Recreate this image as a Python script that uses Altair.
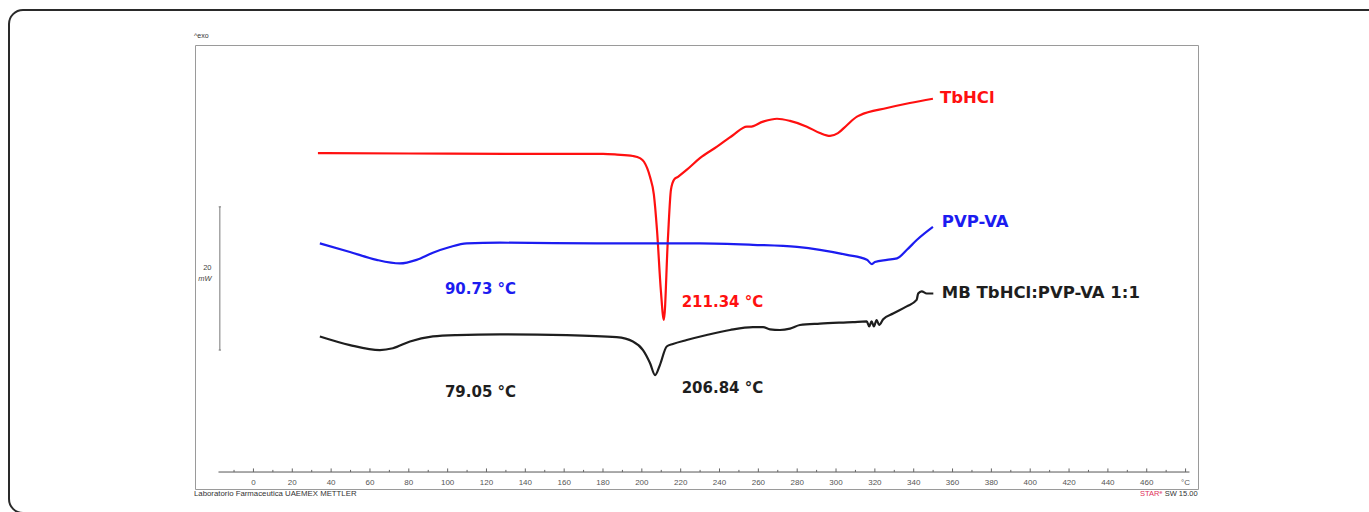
import altair as alt
import pandas as pd

# DSC thermograms: temperature (°C) vs heat flow (mW), curves offset vertically
tb_t = [33.2, 80, 130, 180, 187.2, 195.4, 199.0, 201.1, 204.2, 206.2, 207.8, 209.8, 211.34,
        213.4, 215.0, 216.6, 218.6, 223.2, 229.9, 238.7, 246.9, 254.1, 255.7, 262.4, 269.6,
        276.3, 285.0, 291.7, 296.9, 301.0, 305.6, 310.8, 312.3, 326.2, 338.0, 349.9]
tb_mw = [46.9, 46.85, 46.8, 46.8, 46.7, 46.5, 46.2, 45.7, 43.6, 41.1, 36.2, 27.7, 23.6,
         34.8, 41.8, 43.2, 43.6, 44.6, 46.2, 47.8, 49.4, 50.6, 50.6, 51.3, 51.7,
         51.4, 50.6, 49.7, 49.3, 49.7, 50.8, 52.0, 52.2, 53.2, 53.9, 54.5]

pvp_t = [34.2, 49.7, 63.4, 75.4, 84.0, 92.4, 101.2, 109.8, 126.9, 178.4, 229.9, 257.2,
         279.9, 291.7, 305.6, 315.9, 318.5, 320.0, 326.2, 331.4, 336.5, 341.7, 349.9]
pvp_mw = [34.3, 33.1, 32.0, 31.5, 32.0, 33.0, 33.8, 34.3, 34.4, 34.3, 34.3, 34.1,
          33.8, 33.4, 32.7, 32.0, 31.4, 31.7, 32.0, 32.2, 33.4, 34.8, 36.6]

mb_t = [34.2, 49.7, 65.1, 71.8, 80.6, 92.4, 104.6, 126.9, 161.3, 187.0, 195.4, 200.6,
        204.2, 206.84, 209.3, 212.8, 216.0, 223.1, 233.4, 245.4, 257.2, 262.4, 266.0,
        271.1, 276.3, 281.4, 291.7, 308.7, 315.8, 317.1, 318.3, 319.5, 320.9, 322.2,
        324.3, 329.4, 336.4, 341.5, 342.3, 344.1, 346.7, 350.1]
mb_mw = [21.3, 20.1, 19.4, 19.65, 20.6, 21.3, 21.5, 21.6, 21.5, 21.2, 20.6, 19.4,
         17.6, 15.9, 17.3, 19.9, 20.25, 20.8, 21.5, 22.2, 22.6, 22.6, 22.3,
         22.2, 22.4, 22.9, 23.1, 23.3, 23.4, 22.7, 23.4, 22.7, 23.6, 22.9,
         23.7, 24.5, 25.5, 26.4, 27.3, 27.6, 27.3, 27.3]

series_names = ["TbHCl", "PVP-VA", "MB TbHCl:PVP-VA 1:1"]
series_colors = ["#ff1010", "#1c1cf0", "#1e1e1e"]

# series names at the curve ends
name_t = [353.5, 354.5, 354.5]
name_mw = [54.6, 37.3, 27.4]

# peak / event temperatures
peak_text = ["90.73 °C", "211.34 °C", "79.05 °C", "206.84 °C"]
peak_t = [98.6, 220.5, 98.6, 220.5]
peak_mw = [27.9, 26.1, 13.5, 14.1]
peak_colors = ["#1c1cf0", "#ff1010", "#1e1e1e", "#1e1e1e"]

# temperature axis
tick_minor = list(range(-10, 481, 10))
tick_labels = [str(v) for v in range(0, 461, 20)] + ["°C"]
tick_label_t = list(range(0, 481, 20))
axis_mw = 2.37
axis_t = [-18, 482]

# 20 mW scale bar
bar_t = -17.3
bar_mw = [19.4, 39.4]

X_DOMAIN = [-30.1, 486.4]
Y_DOMAIN = [0, 62]

xs = alt.Scale(domain=X_DOMAIN, nice=False, zero=False)
ys = alt.Scale(domain=Y_DOMAIN, nice=False, zero=False)
X = alt.X("T:Q", scale=xs, axis=None)
Y = alt.Y("mW:Q", scale=ys, axis=None)

rows = []
for name, ts, ms in zip(series_names, [tb_t, pvp_t, mb_t], [tb_mw, pvp_mw, mb_mw]):
    for i, (t, m) in enumerate(zip(ts, ms)):
        rows.append({"series": name, "T": t, "mW": m, "i": i})
curves_df = pd.DataFrame(rows)

curves = alt.Chart(curves_df).mark_line(strokeWidth=2.2, interpolate="monotone").encode(
    x=X, y=Y,
    color=alt.Color("series:N", scale=alt.Scale(domain=series_names, range=series_colors), legend=None),
    detail="series:N",
    order="i:Q",
)

names_df = pd.DataFrame({"text": series_names, "T": name_t, "mW": name_mw, "c": series_colors})
names = alt.Chart(names_df).mark_text(
    align="left", baseline="middle", font="DejaVu Sans", fontWeight="bold", fontSize=16.5
).encode(x=X, y=Y, text="text:N", color=alt.Color("c:N", scale=None))

peaks_df = pd.DataFrame({"text": peak_text, "T": peak_t, "mW": peak_mw, "c": peak_colors})
peaks = alt.Chart(peaks_df).mark_text(
    align="left", baseline="middle", font="DejaVu Sans", fontWeight="bold", fontSize=15
).encode(x=X, y=Y, text="text:N", color=alt.Color("c:N", scale=None))

# axis line, ticks and labels
axis_line = alt.Chart(pd.DataFrame({"T": [axis_t[0]], "T2": [axis_t[1]], "mW": [axis_mw]})).mark_rule(
    color="#555", strokeWidth=1
).encode(x=X, x2="T2:Q", y=Y)

ticks_df = pd.DataFrame({
    "T": tick_minor,
    "mW": [axis_mw] * len(tick_minor),
    "mW2": [axis_mw + (0.5 if v % 20 == 0 else 0.3) for v in tick_minor],
})
ticks = alt.Chart(ticks_df).mark_rule(color="#666", strokeWidth=1).encode(x=X, y=Y, y2="mW2:Q")

tl_df = pd.DataFrame({"text": tick_labels, "T": tick_label_t, "mW": [0.9] * len(tick_labels)})
tick_text = alt.Chart(tl_df).mark_text(
    font="Liberation Sans", fontSize=8, color="#555", baseline="middle"
).encode(x=X, y=Y, text="text:N")

# scale bar
bar = alt.Chart(pd.DataFrame({"T": [bar_t], "mW": [bar_mw[0]], "mW2": [bar_mw[1]]})).mark_rule(
    color="#777", strokeWidth=1
).encode(x=X, y=Y, y2="mW2:Q")
bar_caps = alt.Chart(pd.DataFrame({"T": [bar_t - 0.6, bar_t - 0.6], "T2": [bar_t + 0.6, bar_t + 0.6],
                                   "mW": bar_mw})).mark_rule(color="#777", strokeWidth=1).encode(
    x=X, x2="T2:Q", y=Y)
bar_value = alt.Chart(pd.DataFrame({"text": ["20"], "T": [-21.6], "mW": [30.8]})).mark_text(
    font="Liberation Sans", fontSize=7.5, color="#444", align="right", baseline="middle"
).encode(x=X, y=Y, text="text:N")
bar_unit = alt.Chart(pd.DataFrame({"text": ["mW"], "T": [-21.6], "mW": [29.3]})).mark_text(
    font="Liberation Sans", fontSize=7.5, color="#444", align="right", baseline="middle",
    fontStyle="italic"
).encode(x=X, y=Y, text="text:N")

# header and footer captions
captions = alt.Chart(pd.DataFrame({
    "text": ["^exo", "Laboratorio Farmaceutica UAEMEX METTLER"],
    "T": [-30.6, -30.6],
    "mW": [63.3, -0.75],
    "size": [7, 7.8],
})).mark_text(
    font="Liberation Sans", color="#333", align="left", baseline="middle"
).encode(x=X, y=Y, text="text:N", size=alt.Size("size:Q", scale=None))

star = alt.Chart(pd.DataFrame({"text": ["STARᵉ"], "T": [468.0], "mW": [-0.75]})).mark_text(
    font="Liberation Sans", fontSize=7.5, color="#e0305a", align="right", baseline="middle"
).encode(x=X, y=Y, text="text:N")
sw = alt.Chart(pd.DataFrame({"text": ["SW 15.00"], "T": [486.2], "mW": [-0.75]})).mark_text(
    font="Liberation Sans", fontSize=7.5, color="#333", align="right", baseline="middle"
).encode(x=X, y=Y, text="text:N")

# rounded outer frame
frame = alt.Chart(pd.DataFrame({"k": [0]})).mark_rect(
    fillOpacity=0, stroke="#2a2a2a", strokeWidth=2, cornerRadius=14
).encode(x=alt.value(-186), x2=alt.value(1190), y=alt.value(-35), y2=alt.value(468))

chart = alt.layer(
    frame, axis_line, ticks, tick_text, bar, bar_caps, bar_value, bar_unit, curves, names, peaks,
    captions, star, sw
).properties(
    width=1003, height=444,
    autosize=alt.AutoSizeParams(type="none"),
    padding={"left": 195, "top": 45, "right": 171, "bottom": 23},
    background="white",
).configure_view(stroke="#9a9a9a", strokeWidth=1)

chart.save("out.html", embed_options={"renderer": "svg", "actions": False})
